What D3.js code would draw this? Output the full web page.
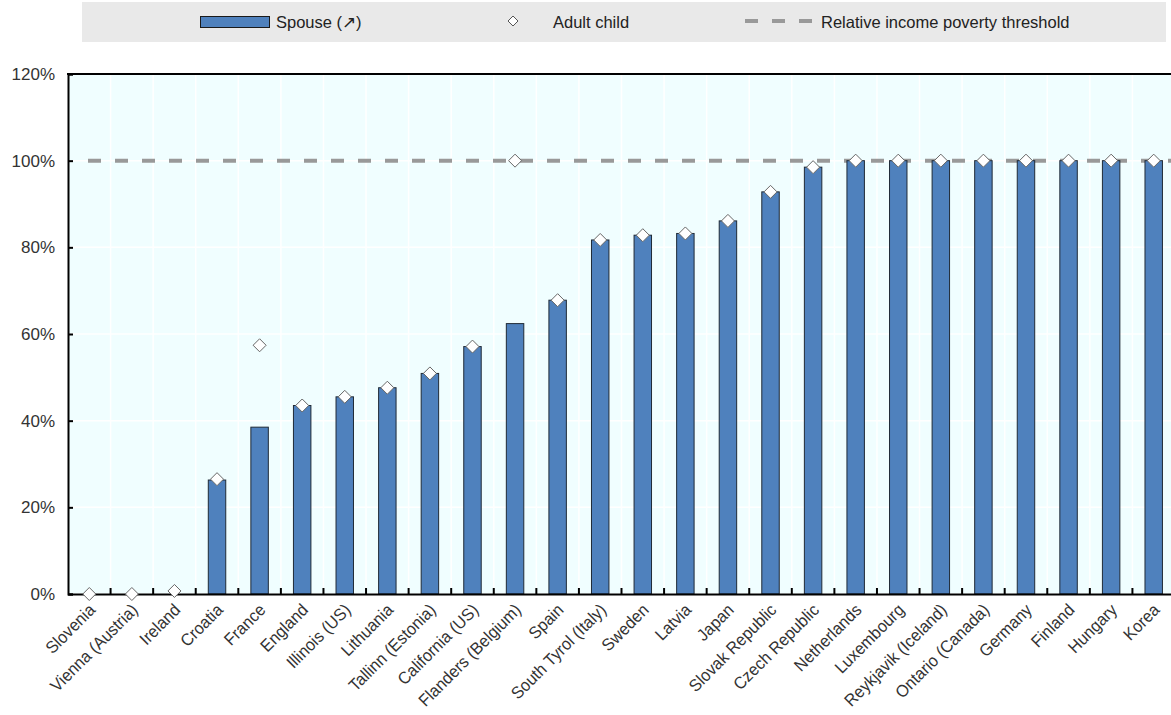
<!DOCTYPE html>
<html><head><meta charset="utf-8">
<script src="https://cdn.jsdelivr.net/npm/d3@7"></script>
<style>
html,body{margin:0;padding:0;background:#fff;}
svg{display:block;font-family:"Liberation Sans",Arial,sans-serif;}
</style></head>
<body>
<svg id="chart" width="1171" height="715"></svg>
<script>
const categories = ["Slovenia","Vienna (Austria)","Ireland","Croatia","France","England","Illinois (US)","Lithuania","Tallinn (Estonia)","California (US)","Flanders (Belgium)","Spain","South Tyrol (Italy)","Sweden","Latvia","Japan","Slovak Republic","Czech Republic","Netherlands","Luxembourg","Reykjavik (Iceland)","Ontario (Canada)","Germany","Finland","Hungary","Korea"];
const spouse = [0,0,0,26.3,38.5,43.5,45.5,47.6,50.9,57.1,62.4,67.8,81.7,82.8,83.2,86.1,92.8,98.5,100,100,100,100,100,100,100,100];
const adultChild = [0,0,0.7,26.5,57.4,43.5,45.5,47.6,50.9,57.1,100,67.8,81.7,82.8,83.2,86.1,92.8,98.5,100,100,100,100,100,100,100,100];
const threshold = 100;
const yTicks = [0,20,40,60,80,100,120];
const legendLabels = ["Spouse (\u2197)","Adult child","Relative income poverty threshold"];

const svg = d3.select("#chart");
const L = 68, R = 1175, T = 74, B = 594;
const x = d3.scaleBand().domain(categories).range([L, R]).paddingInner(0).paddingOuter(0);
const y = d3.scaleLinear().domain([0,120]).range([B, T]);
const barW = x.bandwidth()*0.41;
const blue = "#4F81BD";
const diamond = r => `M0,${-r}L${r},0L0,${r}L${-r},0Z`;

// legend
const lg = svg.append("g");
lg.append("rect").attr("x",82).attr("y",2).attr("width",1084).attr("height",40).attr("fill","#E9E9E9");
lg.append("rect").attr("x",200.5).attr("y",16.5).attr("width",69).attr("height",11).attr("fill",blue).attr("stroke","#1a1a1a").attr("stroke-width",1);
lg.append("text").attr("x",276).attr("y",27.5).attr("font-size",16.5).attr("fill","#222").text(legendLabels[0]);
lg.append("path").attr("d",diamond(5)).attr("transform","translate(513,21)").attr("fill","#fff").attr("stroke","#555").attr("stroke-width",1);
lg.append("text").attr("x",553).attr("y",27.5).attr("font-size",16.5).attr("fill","#222").text(legendLabels[1]);
lg.append("line").attr("x1",745).attr("x2",812).attr("y1",21).attr("y2",21).attr("stroke","#999").attr("stroke-width",4).attr("stroke-dasharray","13,14");
lg.append("text").attr("x",821).attr("y",27.5).attr("font-size",16.5).attr("fill","#222").text(legendLabels[2]);

// plot background
svg.append("rect").attr("x",L).attr("y",T).attr("width",R-L).attr("height",B-T).attr("fill","#F0FEFF");
// gridlines
svg.append("g").selectAll("line.h").data(yTicks).join("line")
  .attr("x1",L).attr("x2",R).attr("y1",d=>y(d)).attr("y2",d=>y(d)).attr("stroke","#fff").attr("stroke-width",1.5);
svg.append("g").selectAll("line.v").data(categories.slice(1)).join("line")
  .attr("x1",d=>x(d)).attr("x2",d=>x(d)).attr("y1",T).attr("y2",B).attr("stroke","#fff").attr("stroke-width",1.5);

// threshold
svg.append("line").attr("x1",88).attr("x2",R).attr("y1",y(threshold)).attr("y2",y(threshold))
  .attr("stroke","#999").attr("stroke-width",4).attr("stroke-dasharray","13,14");

// bars
svg.append("g").selectAll("rect").data(categories).join("rect")
  .attr("x",d=>x(d)+x.bandwidth()/2-barW/2).attr("width",barW)
  .attr("y",(d,i)=>y(spouse[i])).attr("height",(d,i)=>B-y(spouse[i]))
  .attr("fill",blue).attr("stroke","#1f2a36").attr("stroke-width",1)
  .style("display",(d,i)=>spouse[i]>0?null:"none");

// axes
const yAxis = d3.axisLeft(y).tickValues(yTicks).tickFormat(d=>d+"%").tickSize(-5).tickPadding(13);
const ya = svg.append("g").attr("transform",`translate(${L},0)`).call(yAxis);
ya.select(".domain").attr("stroke","#000").attr("stroke-width",2);
ya.selectAll(".tick line").attr("stroke","#000").attr("stroke-width",2);
ya.selectAll("text").attr("font-size",17).attr("fill","#333").attr("font-family","Liberation Sans, Arial, sans-serif");

const xAxis = d3.axisBottom(x).tickSize(0).tickFormat("");
const xa = svg.append("g").attr("transform",`translate(0,${B})`).call(xAxis);
xa.select(".domain").attr("stroke","#000").attr("stroke-width",2);
xa.selectAll(".tick").remove();
// boundary ticks pointing up
svg.append("g").selectAll("line").data(categories.slice(1)).join("line")
  .attr("x1",d=>x(d)).attr("x2",d=>x(d)).attr("y1",B).attr("y2",B-6).attr("stroke","#000").attr("stroke-width",2);
// top border
svg.append("line").attr("x1",L-1).attr("x2",R).attr("y1",T).attr("y2",T).attr("stroke","#000").attr("stroke-width",2);

// x labels
svg.append("g").selectAll("text").data(categories).join("text")
  .attr("transform",d=>`translate(${x(d)+x.bandwidth()/2+7},${B+17}) rotate(-45) scale(0.95,1)`)
  .attr("text-anchor","end").attr("font-size",17).attr("fill","#333").text(d=>d);

// diamonds
svg.append("g").selectAll("path").data(categories).join("path")
  .attr("d",diamond(6.5))
  .attr("transform",(d,i)=>`translate(${x(d)+x.bandwidth()/2},${y(adultChild[i])})`)
  .attr("fill","#fff").attr("stroke","#666").attr("stroke-width",1);
</script>
</body></html>
